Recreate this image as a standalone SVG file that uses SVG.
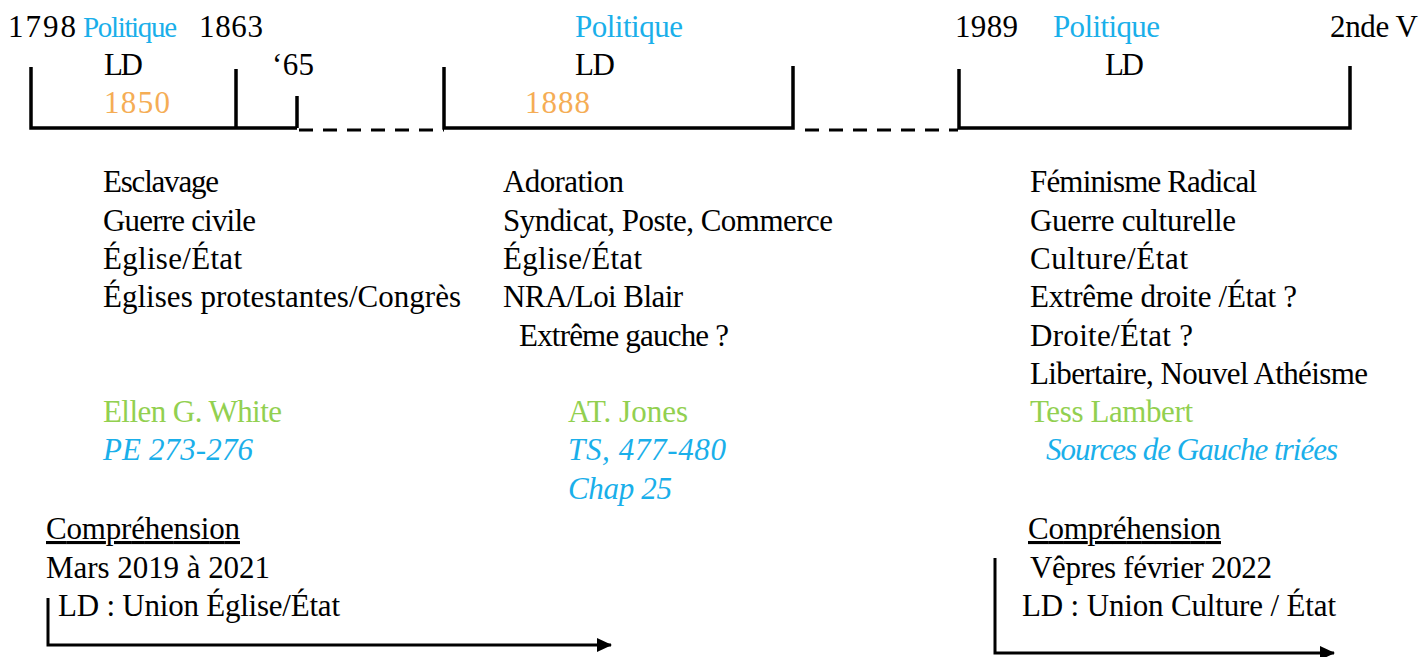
<svg xmlns="http://www.w3.org/2000/svg" width="1421" height="657" viewBox="0 0 1421 657">
<style>
text{font-family:"Liberation Serif","DejaVu Serif",serif;font-size:31px;fill:#000}
.b{fill:#1AAFEA}
.g{fill:#92D050}
.o{fill:#F5AD55}
.i{font-style:italic}
.s{font-size:29px}
.ln{stroke:#000;stroke-width:3.5;fill:none}
.d{stroke:#000;stroke-width:3;stroke-dasharray:14 10;fill:none}
.ar{stroke:#000;stroke-width:3;fill:none}
</style>
<defs>
<marker id="ah" markerWidth="15" markerHeight="14" refX="14" refY="7" orient="auto" markerUnits="userSpaceOnUse">
<path d="M0,0 L15,7 L0,14 Z" fill="#000"/>
</marker>
</defs>
<rect width="1421" height="657" fill="#fff"/>
<g id="connectors">
<path class="ln" d="M31,67 V128 H297 M236,69 V128 M297,96 V128"/>
<path class="d" d="M299,130 H444"/>
<path class="ln" d="M444,67 V128 H793 V66"/>
<path class="d" d="M805,130 H958"/>
<path class="ln" d="M959,69 V128 H1350 V66"/>
<path class="ar" d="M48,598 V645 H611" marker-end="url(#ah)"/>
<path class="ar" d="M995,558 V653 H1334" marker-end="url(#ah)"/>
</g>
<g id="period1">
<text x="8" y="37" textLength="68">1798</text>
<text x="83" y="37" class="b s" textLength="94">Politique</text>
<text x="199" y="37" textLength="64">1863</text>
<text x="104" y="75" textLength="39">LD</text>
<text x="272" y="75" textLength="42">‘65</text>
<text x="104" y="113" class="o" textLength="66">1850</text>
</g>
<g id="period2">
<text x="575" y="37" class="b" textLength="108">Politique</text>
<text x="575" y="75" textLength="40">LD</text>
<text x="525" y="113" class="o" textLength="65">1888</text>
</g>
<g id="period3">
<text x="955" y="37" textLength="63">1989</text>
<text x="1053" y="37" class="b" textLength="107">Politique</text>
<text x="1330" y="37" textLength="88">2nde V</text>
<text x="1105" y="75" textLength="39">LD</text>
</g>
<g id="col1">
<text x="103" y="192" textLength="116">Esclavage</text>
<text x="103" y="231" textLength="153">Guerre civile</text>
<text x="103" y="269" textLength="139">Église/État</text>
<text x="103" y="307" textLength="358">Églises protestantes/Congrès</text>
<text x="103" y="422" class="g" textLength="179">Ellen G. White</text>
<text x="103" y="460" class="b i" textLength="150">PE 273-276</text>
</g>
<g id="col2">
<text x="503" y="192" textLength="121">Adoration</text>
<text x="503" y="231" textLength="330">Syndicat, Poste, Commerce</text>
<text x="503" y="269" textLength="139">Église/État</text>
<text x="503" y="307" textLength="180">NRA/Loi Blair</text>
<text x="519" y="346" textLength="210">Extrême gauche ?</text>
<text x="568" y="422" class="g" textLength="120">AT. Jones</text>
<text x="568" y="460" class="b i" textLength="158">TS, 477-480</text>
<text x="568" y="499" class="b i" textLength="104">Chap 25</text>
</g>
<g id="col3">
<text x="1030" y="192" textLength="227">Féminisme Radical</text>
<text x="1030" y="231" textLength="206">Guerre culturelle</text>
<text x="1030" y="269" textLength="158">Culture/État</text>
<text x="1030" y="307" textLength="267">Extrême droite /État ?</text>
<text x="1030" y="346" textLength="163">Droite/État ?</text>
<text x="1030" y="384" textLength="338">Libertaire, Nouvel Athéisme</text>
<text x="1030" y="422" class="g" textLength="163">Tess Lambert</text>
<text x="1046" y="460" class="b i" textLength="292">Sources de Gauche triées</text>
</g>
<g id="comp1">
<text x="46" y="539" text-decoration="underline" textLength="194">Compréhension</text>
<text x="46" y="578" textLength="224">Mars 2019 à 2021</text>
<text x="58" y="616" textLength="282">LD : Union Église/État</text>
</g>
<g id="comp2">
<text x="1028" y="539" text-decoration="underline" textLength="193">Compréhension</text>
<text x="1030" y="578" textLength="242">Vêpres février 2022</text>
<text x="1022" y="616" textLength="314">LD : Union Culture / État</text>
</g>
</svg>
